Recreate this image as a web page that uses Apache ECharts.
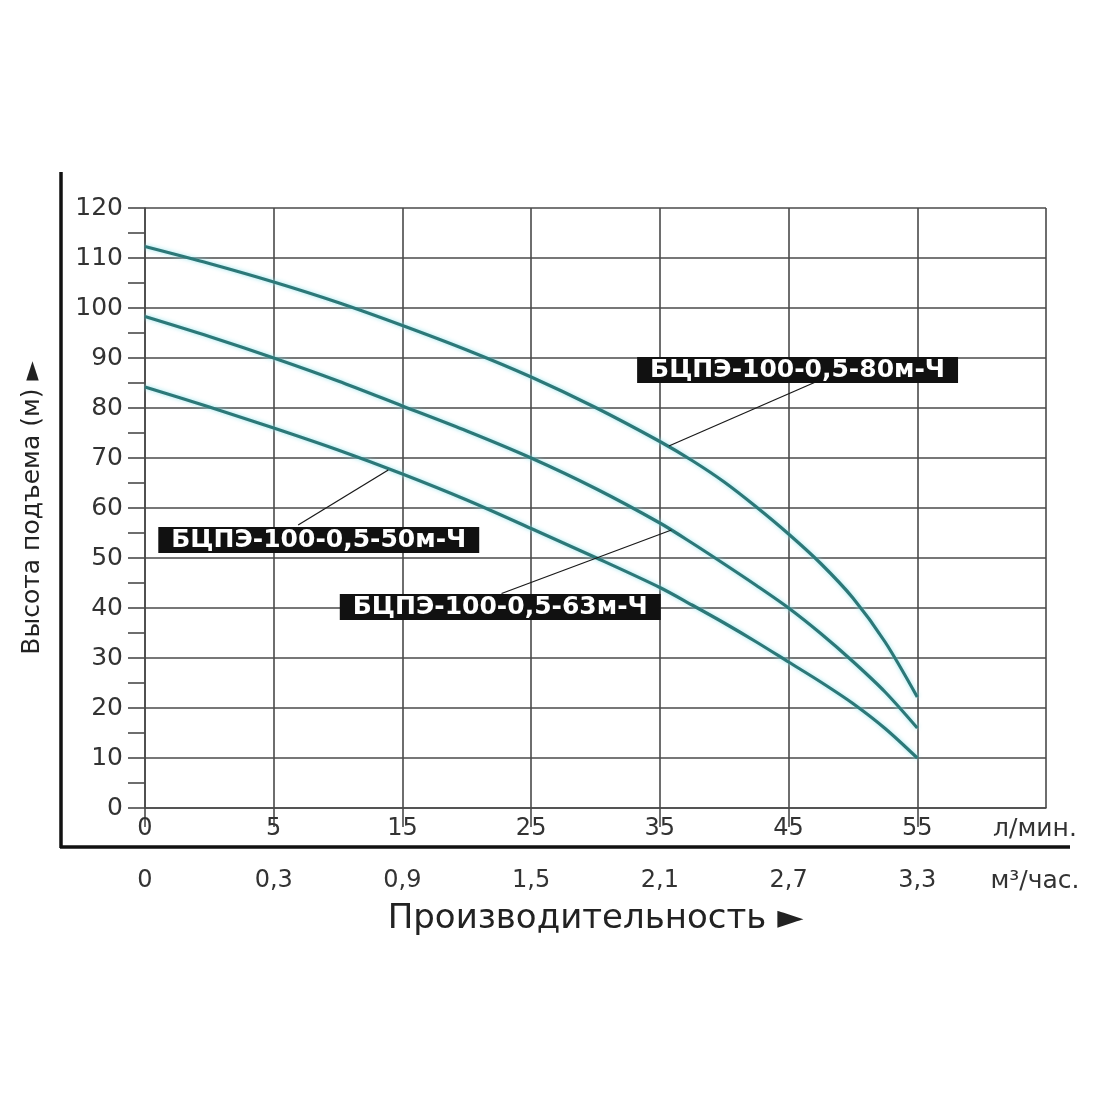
<!DOCTYPE html>
<html>
<head>
<meta charset="utf-8">
<script src="https://cdn.jsdelivr.net/npm/echarts@6/dist/echarts.min.js"></script>
<style>
html,body{margin:0;padding:0;background:#fff;}
#chart{width:1100px;height:1100px;}
</style>
</head>
<body>
<div id="chart"></div>
<script>
// ---- data ----
const flowLabels = ['0', '5', '15', '25', '35', '45', '55'];
const flowUnit = 'л/мин.';
const m3Labels = ['0', '0,3', '0,9', '1,5', '2,1', '2,7', '3,3'];
const m3Unit = 'м³/час.';
const xTitle = 'Производительность ►';
const yTitle = 'Высота подъема (м) ►';

// positions along the flow axis (in tick steps) where heads were read
const flowPos = [0, 0.5, 1, 1.5, 2, 2.5, 3, 3.5, 4, 4.25, 4.5, 4.75, 5, 5.25, 5.5, 5.75, 6];
const head80 = [112.3, 108.9, 105.2, 101.1, 96.5, 91.6, 86.2, 80.1, 73.3, 69.5, 65.2, 60.2, 54.8, 48.9, 42.0, 33.2, 22.2];
const head63 = [98.3, 94.3, 90.0, 85.4, 80.4, 75.4, 70.0, 63.9, 57.0, 53.0, 48.8, 44.5, 40.0, 34.9, 29.3, 23.2, 16.0];
const head50 = [84.2, 80.2, 76.0, 71.6, 66.8, 61.6, 55.9, 50.1, 44.1, 40.6, 37.0, 33.2, 29.2, 25.2, 20.9, 15.9, 10.0];

const seriesNames = ['БЦПЭ-100-0,5-80м-Ч', 'БЦПЭ-100-0,5-63м-Ч', 'БЦПЭ-100-0,5-50м-Ч'];
const seriesHeads = [head80, head63, head50];

// annotation callouts: label anchor and leader line (data coordinates)
const calloutLabel = [[5.07, 87.6], [2.76, 40.2], [1.35, 53.6]];
const calloutLeader = [
  [[5.21, 85.2], [4.07, 72.4]],
  [[2.77, 42.9], [4.09, 55.6]],
  [[1.19, 56.6], [1.89, 67.6]]
];

// ---- chart ----
const FONT = 'DejaVu Sans';
const curveColor = '#2c7878';
const gridColor = '#4a4a4a';

function pairs(xs, ys) { return xs.map((x, i) => [x, ys[i]]); }

const curveSeries = seriesHeads.map((h, i) => ({
  name: seriesNames[i],
  type: 'line',
  data: pairs(flowPos, h),
  smooth: 0.3,
  showSymbol: false,
  symbol: 'none',
  z: 3,
  lineStyle: {
    color: curveColor, width: 3.2,
    shadowColor: 'rgba(140,225,235,0.9)', shadowBlur: 4
  },
  markLine: {
    silent: true,
    symbol: ['none', 'none'],
    animation: false,
    lineStyle: { color: '#1a1a1a', width: 1.3, type: 'solid' },
    label: { show: false },
    data: [[{ coord: calloutLeader[i][0] }, { coord: calloutLeader[i][1] }]]
  }
}));

const labelSeries = {
  type: 'scatter',
  z: 5,
  symbolSize: 1,
  itemStyle: { color: 'rgba(0,0,0,0)' },
  silent: true,
  data: calloutLabel.map((c, i) => ({ name: seriesNames[i], value: [c[0], c[1]] })),
  label: {
    show: true,
    opacity: 1,
    position: 'inside',
    formatter: p => p.name,
    color: '#ffffff',
    fontFamily: FONT,
    fontWeight: 'bold',
    fontSize: 25,
    lineHeight: 24,
    backgroundColor: '#111111',
    padding: [1, 13, 1, 13]
  }
};

function xLabelFormatter(labels, unit) {
  return v => {
    const i = Math.round(v);
    if (i === 7) return '{u|' + unit + '}';
    return labels[i] !== undefined ? labels[i] : '';
  };
}

const option = {
  animation: false,
  backgroundColor: '#ffffff',
  grid: { left: 145, right: 54, top: 208, bottom: 292, containLabel: false },
  xAxis: [
    {
      type: 'value', min: 0, max: 7, interval: 1, position: 'bottom',
      axisLine: { show: true, onZero: false, lineStyle: { color: gridColor, width: 1.6 } },
      axisTick: { show: false },
      splitLine: { show: true, lineStyle: { color: gridColor, width: 1.6 } },
      axisLabel: {
        show: true, margin: 9, color: '#333', fontFamily: FONT, fontSize: 24,
        showMaxLabel: true, showMinLabel: true,
        customValues: [0, 1, 2, 3, 4, 5, 6, 7],
        formatter: xLabelFormatter(flowLabels, flowUnit),
        rich: { u: { fontFamily: FONT, fontSize: 25, color: '#333', padding: [0, 22, 0, 0] } }
      }
    },
    {
      type: 'value', min: 0, max: 7, interval: 1, position: 'bottom', offset: 39,
      axisLine: { show: false },
      axisTick: { show: true, inside: false, length: 19, customValues: [0, 1, 2, 3, 4, 5, 6],
        lineStyle: { color: gridColor, width: 1.6 } },
      splitLine: { show: false },
      axisLabel: {
        show: true, margin: 22, color: '#333', fontFamily: FONT, fontSize: 24,
        showMaxLabel: true, showMinLabel: true,
        customValues: [0, 1, 2, 3, 4, 5, 6, 7],
        formatter: xLabelFormatter(m3Labels, m3Unit),
        rich: { u: { fontFamily: FONT, fontSize: 25, color: '#333', padding: [0, 22, 0, 0] } }
      },
      name: xTitle,
      nameLocation: 'middle',
      nameGap: 55,
      nameTextStyle: { fontFamily: FONT, fontSize: 34, color: '#222' }
    }
  ],
  yAxis: {
    type: 'value', min: 0, max: 120, interval: 10,
    axisLine: { show: true, lineStyle: { color: gridColor, width: 1.6 } },
    axisTick: { show: true, inside: false, length: 17, lineStyle: { color: gridColor, width: 1.6 } },
    minorTick: { show: true, splitNumber: 2, length: 17, lineStyle: { color: gridColor, width: 1.6 } },
    splitLine: { show: true, lineStyle: { color: gridColor, width: 1.6 } },
    axisLabel: { margin: 22, color: '#333', fontFamily: FONT, fontSize: 25 },
    name: yTitle,
    nameLocation: 'middle',
    nameRotate: 90,
    nameGap: 100,
    nameTextStyle: { fontFamily: FONT, fontSize: 25, color: '#222' }
  },
  graphic: [
    { type: 'line', silent: true, z: 10,
      shape: { x1: 61, y1: 172, x2: 61, y2: 848 },
      style: { stroke: '#111', lineWidth: 3.5 } },
    { type: 'line', silent: true, z: 10,
      shape: { x1: 60, y1: 847, x2: 1070, y2: 847 },
      style: { stroke: '#111', lineWidth: 3.5 } }
  ],
  series: [...curveSeries, labelSeries]
};

const chart = echarts.init(document.getElementById('chart'), null, { renderer: 'canvas' });
chart.setOption(option);
</script>
</body>
</html>
